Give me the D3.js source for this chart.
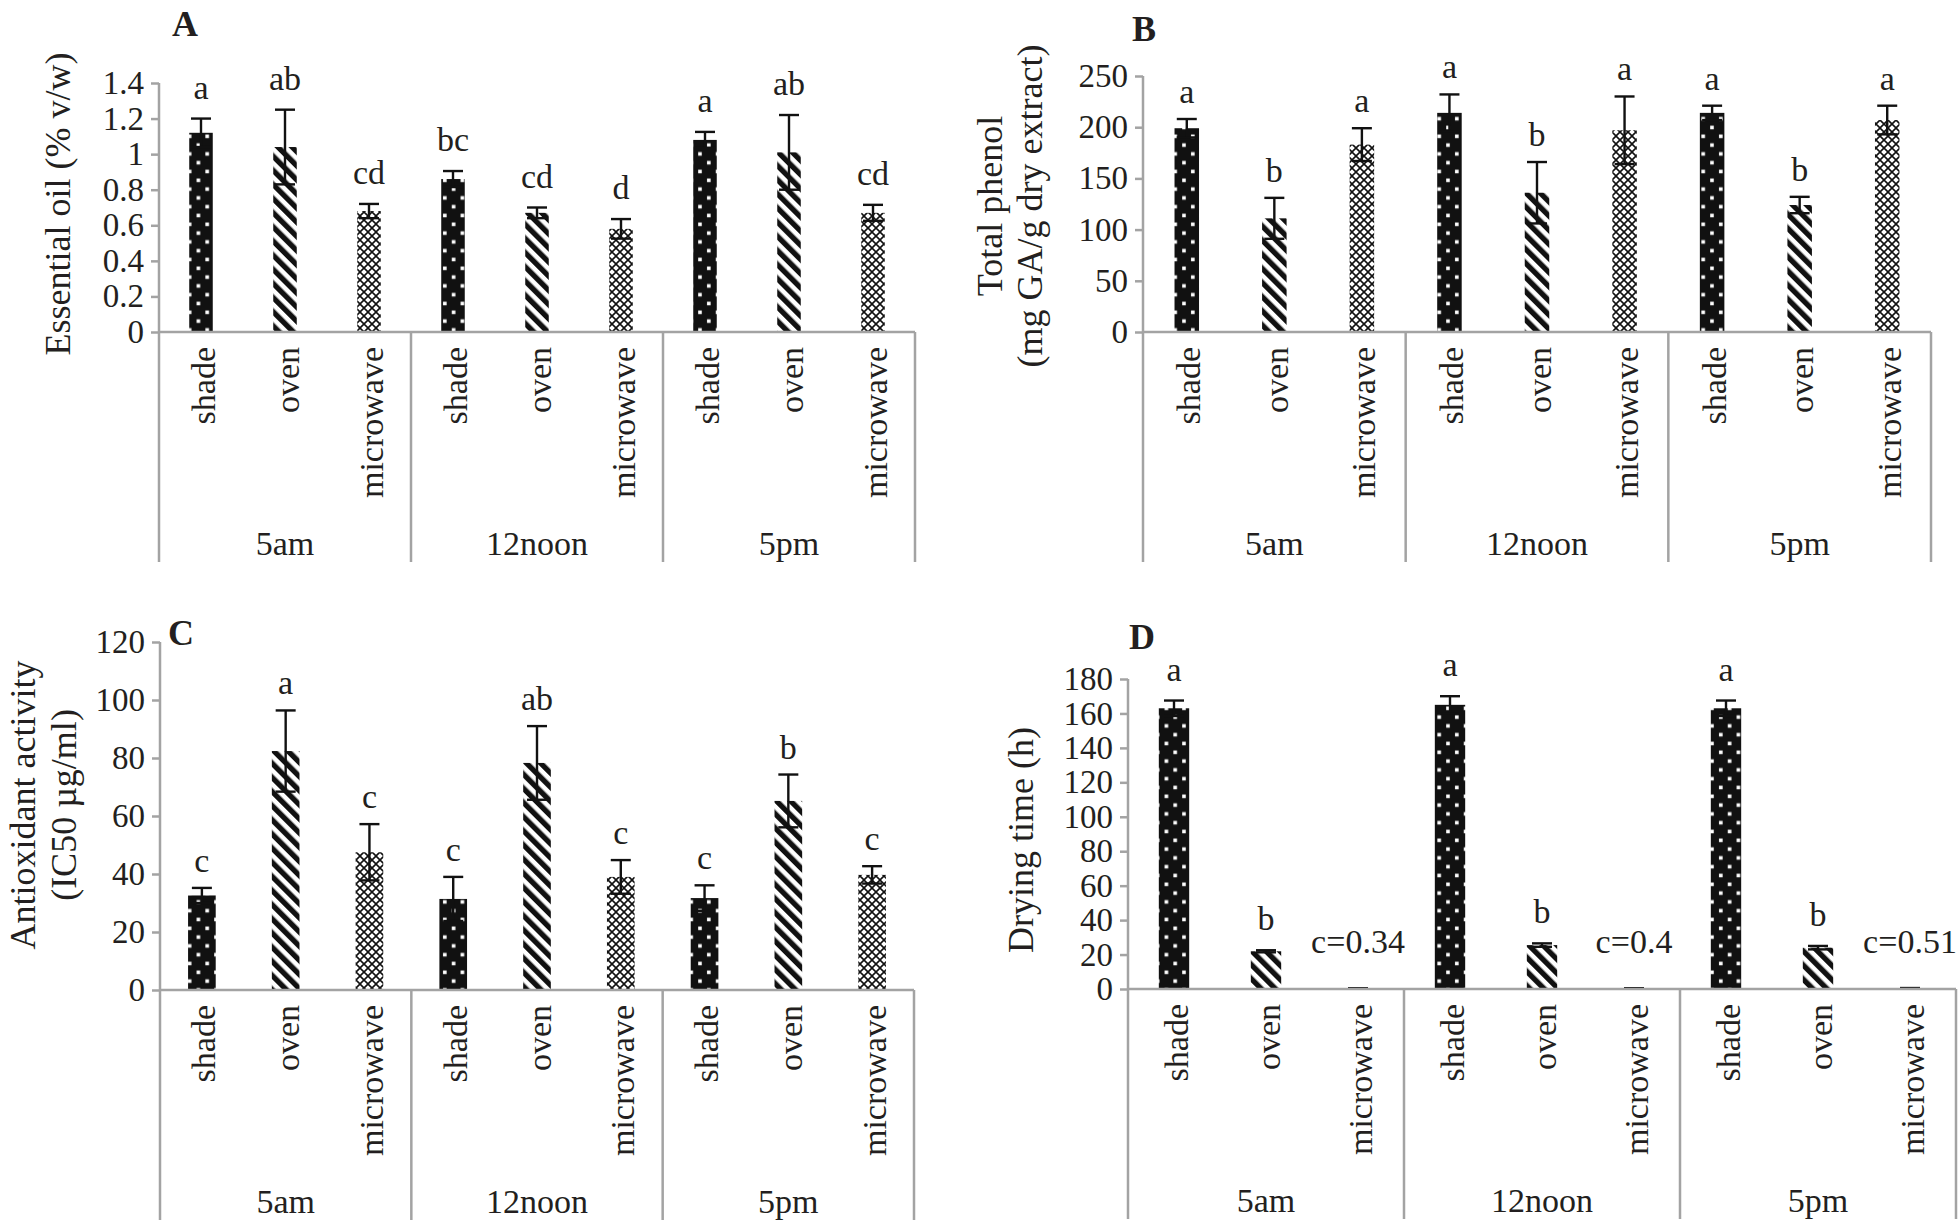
<!DOCTYPE html>
<html>
<head>
<meta charset="utf-8">
<script src="https://cdn.jsdelivr.net/npm/d3@7"></script>
<style>
  html, body { margin: 0; padding: 0; background: #fff; }
  svg { display: block; }
  text { font-family: "Liberation Serif", "Times New Roman", serif; fill: #231f20; }
</style>
</head>
<body>
<svg id="chart" width="1960" height="1220" font-family="Liberation Serif, Times New Roman, serif"></svg>
<script>
// ---------------- data ----------------
const groups = ["5am", "12noon", "5pm"];
const methods = ["shade", "oven", "microwave"];

// Panel A: Essential oil (% v/w)
const oilShade = [1.12, 0.86, 1.08];
const oilShadeErr = [0.08, 0.045, 0.045];
const oilOven = [1.04, 0.67, 1.01];
const oilOvenErr = [0.21, 0.03, 0.21];
const oilMicro = [0.68, 0.58, 0.67];
const oilMicroErr = [0.04, 0.055, 0.045];
const oilLetters = { shade: ["a", "bc", "a"], oven: ["ab", "cd", "ab"], microwave: ["cd", "d", "cd"] };
const oilTicks = [0, 0.2, 0.4, 0.6, 0.8, 1, 1.2, 1.4];

// Panel B: Total phenol (mg GA/g dry extract)
const phenolShade = [199, 214, 214];
const phenolShadeErr = [9, 18, 7];
const phenolOven = [111, 136, 124];
const phenolOvenErr = [20, 30, 8];
const phenolMicro = [183, 197, 207];
const phenolMicroErr = [16, 33, 14];
const phenolLetters = { shade: ["a", "a", "a"], oven: ["b", "b", "b"], microwave: ["a", "a", "a"] };
const phenolTicks = [0, 50, 100, 150, 200, 250];

// Panel C: Antioxidant activity (IC50 µg/ml)
const antiShade = [32.6, 31.4, 31.7];
const antiShadeErr = [2.6, 7.6, 4.4];
const antiOven = [82.4, 78.3, 65.2];
const antiOvenErr = [14, 12.7, 9.1];
const antiMicro = [47.5, 39, 39.7];
const antiMicroErr = [9.7, 5.8, 3];
const antiLetters = { shade: ["c", "c", "c"], oven: ["a", "ab", "b"], microwave: ["c", "c", "c"] };
const antiTicks = [0, 20, 40, 60, 80, 100, 120];

// Panel D: Drying time (h)
const dryShade = [163, 165, 163];
const dryShadeErr = [4.5, 5, 4.5];
const dryOven = [21.9, 25.5, 24];
const dryOvenErr = [0.6, 1, 1];
const dryMicro = [0.34, 0.4, 0.51];
const dryMicroErr = [0.05, 0.05, 0.05];
const dryLetters = { shade: ["a", "a", "a"], oven: ["b", "b", "b"], microwave: ["c=0.34", "c=0.4", "c=0.51"] };
const dryTicks = [0, 20, 40, 60, 80, 100, 120, 140, 160, 180];

// ---------------- drawing ----------------
const FONT = '"Liberation Serif", "Times New Roman", serif';
const svg = d3.select("#chart");
const AXIS = "#a3a3a3";
const INK = "#111";

// patterns
const defs = svg.append("defs");
const pShade = defs.append("pattern").attr("id", "pat-shade")
  .attr("patternUnits", "userSpaceOnUse").attr("width", 17.6).attr("height", 17.6);
pShade.append("rect").attr("width", 17.6).attr("height", 17.6).attr("fill", INK);
pShade.append("rect").attr("x", 3).attr("y", 2.5).attr("width", 3.6).attr("height", 3.6).attr("fill", "#fff");
pShade.append("rect").attr("x", 11.8).attr("y", 11.3).attr("width", 3.6).attr("height", 3.6).attr("fill", "#fff");

const pOven = defs.append("pattern").attr("id", "pat-oven")
  .attr("patternUnits", "userSpaceOnUse").attr("width", 10).attr("height", 20)
  .attr("patternTransform", "rotate(-45)");
pOven.append("rect").attr("width", 10).attr("height", 20).attr("fill", "#fff");
pOven.append("rect").attr("width", 5.4).attr("height", 20).attr("fill", INK);

const pMicro = defs.append("pattern").attr("id", "pat-micro")
  .attr("patternUnits", "userSpaceOnUse").attr("width", 8).attr("height", 8);
pMicro.append("rect").attr("width", 8).attr("height", 8).attr("fill", "#fff");
pMicro.append("path").attr("d", "M0,0L8,8M8,0L0,8").attr("stroke", INK).attr("stroke-width", 1.6).attr("fill", "none");

const fills = { shade: "url(#pat-shade)", oven: "url(#pat-oven)", microwave: "url(#pat-micro)" };

function series(s, se, o, oe, m, me) {
  return {
    shade: { v: s, e: se }, oven: { v: o, e: oe }, microwave: { v: m, e: me }
  };
}

const panels = [
  { letter: "A", lx: 172, ly: 36, x0: 159, x1: 915, y0: 332, yTop: 83,
    ticks: oilTicks, data: series(oilShade, oilShadeErr, oilOven, oilOvenErr, oilMicro, oilMicroErr),
    letters: oilLetters, barFrac: 0.28, gap: 20,
    title: ["Essential oil (% v/w)"], tx: [58], ty: 204 },
  { letter: "B", lx: 1132, ly: 41, x0: 1143, x1: 1931, y0: 332, yTop: 76,
    ticks: phenolTicks, data: series(phenolShade, phenolShadeErr, phenolOven, phenolOvenErr, phenolMicro, phenolMicroErr),
    letters: phenolLetters, barFrac: 0.28, gap: 16,
    title: ["Total phenol", "(mg GA/g dry extract)"], tx: [990, 1030], ty: 206 },
  { letter: "C", lx: 168, ly: 645, x0: 160, x1: 914, y0: 990, yTop: 642,
    ticks: antiTicks, data: series(antiShade, antiShadeErr, antiOven, antiOvenErr, antiMicro, antiMicroErr),
    letters: antiLetters, barFrac: 0.33, gap: 16,
    title: ["Antioxidant activity", "(IC50 µg/ml)"], tx: [23, 64], ty: 805 },
  { letter: "D", lx: 1129, ly: 649, x0: 1128, x1: 1956, y0: 989, yTop: 679,
    ticks: dryTicks, data: series(dryShade, dryShadeErr, dryOven, dryOvenErr, dryMicro, dryMicroErr),
    letters: dryLetters, barFrac: 0.33, gap: 20, microGap: 36,
    title: ["Drying time (h)"], tx: [1021], ty: 840 }
];

const CAT_DEPTH = 230;

function txt(sel) {
  return sel.attr("font-family", FONT).attr("fill", "#231f20");
}

panels.forEach(p => {
  const g = svg.append("g");
  const maxV = p.ticks[p.ticks.length - 1];
  const y = d3.scaleLinear().domain([0, maxV]).range([p.y0, p.yTop]);
  const xg = d3.scaleBand().domain(groups).range([p.x0, p.x1]);
  const xc = d3.scaleBand().domain(methods).range([0, xg.bandwidth()]);
  const bw = xc.bandwidth() * p.barFrac;
  const cx = (gr, m) => xg(gr) + xc(m) + xc.bandwidth() / 2;

  // y axis via d3
  const yAxis = d3.axisLeft(y).tickValues(p.ticks).tickSize(8).tickSizeOuter(0).tickPadding(7)
    .tickFormat(d3.format("~g"));
  const ag = g.append("g").attr("transform", `translate(${p.x0},0)`).call(yAxis);
  ag.attr("font-family", FONT).attr("font-size", 33);
  ag.select(".domain").remove();
  ag.selectAll(".tick line").attr("stroke", AXIS).attr("stroke-width", 2.5);
  ag.selectAll(".tick text").attr("font-size", 33).attr("fill", "#231f20").attr("font-family", FONT);

  // bars
  groups.forEach((gr, gi) => {
    methods.forEach(m => {
      const v = p.data[m].v[gi];
      const e = p.data[m].e[gi];
      const c = cx(gr, m);
      g.append("rect").attr("x", c - bw / 2).attr("y", y(v)).attr("width", bw)
        .attr("height", y(0) - y(v)).attr("fill", fills[m]);
      const lo = y(Math.max(0, v - e)), hi = y(v + e);
      g.append("line").attr("x1", c).attr("x2", c).attr("y1", lo).attr("y2", hi)
        .attr("stroke", INK).attr("stroke-width", 2.4);
      g.append("line").attr("x1", c - 10).attr("x2", c + 10).attr("y1", hi).attr("y2", hi)
        .attr("stroke", INK).attr("stroke-width", 2.4);
      if (v - e > 0) {
        g.append("line").attr("x1", c - 10).attr("x2", c + 10).attr("y1", lo).attr("y2", lo)
          .attr("stroke", INK).attr("stroke-width", 2.4);
      }
      const useMicro = (m === "microwave" && p.microGap);
      const ly = useMicro ? y(0) - p.microGap : hi - p.gap;
      txt(g.append("text")).attr("x", c).attr("y", ly).attr("text-anchor", "middle")
        .attr("font-size", 34).text(p.letters[m][gi]);

      // category label
      txt(g.append("text")).attr("transform", `translate(${c + 2},${p.y0 + 15}) rotate(-90)`)
        .attr("text-anchor", "end").attr("dominant-baseline", "central")
        .attr("font-size", 34).text(m);
    });
    // group label
    txt(g.append("text")).attr("x", xg(gr) + xg.bandwidth() / 2).attr("y", p.y0 + 211)
      .attr("text-anchor", "middle").attr("dominant-baseline", "central")
      .attr("font-size", 34).text(gr);
  });

  // axis lines
  g.append("line").attr("x1", p.x0).attr("x2", p.x0).attr("y1", p.yTop).attr("y2", p.y0 + CAT_DEPTH)
    .attr("stroke", AXIS).attr("stroke-width", 2.5);
  g.append("line").attr("x1", p.x0).attr("x2", p.x1).attr("y1", p.y0).attr("y2", p.y0)
    .attr("stroke", AXIS).attr("stroke-width", 2.5);
  groups.forEach(gr => {
    const xe = xg(gr) + xg.bandwidth();
    g.append("line").attr("x1", xe).attr("x2", xe).attr("y1", p.y0).attr("y2", p.y0 + CAT_DEPTH)
      .attr("stroke", AXIS).attr("stroke-width", 2.5);
  });

  // panel letter
  txt(g.append("text")).attr("x", p.lx).attr("y", p.ly).attr("font-size", 36).attr("font-weight", "bold")
    .text(p.letter);

  // y title
  p.title.forEach((t, i) => {
    txt(g.append("text")).attr("transform", `translate(${p.tx[i]},${p.ty}) rotate(-90)`)
      .attr("text-anchor", "middle").attr("dominant-baseline", "central")
      .attr("font-size", 36).text(t);
  });
});
</script>
</body>
</html>
